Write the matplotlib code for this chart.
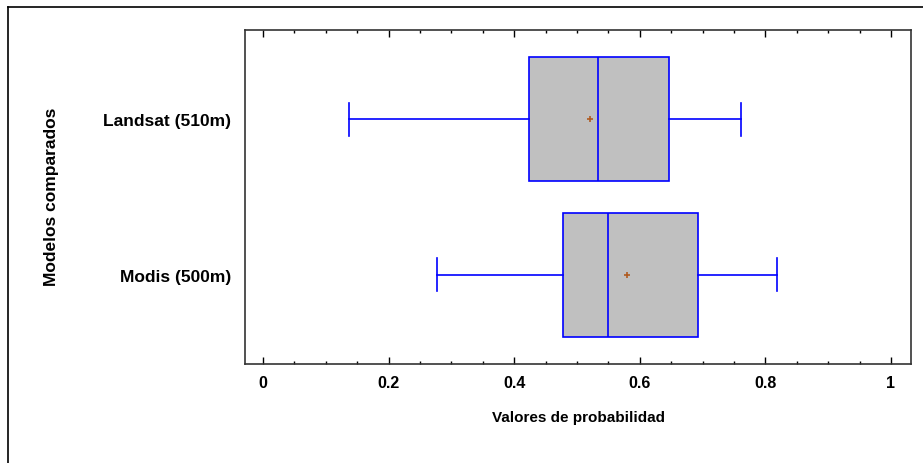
import matplotlib
matplotlib.use('Agg')
import matplotlib.pyplot as plt
from matplotlib.ticker import MultipleLocator
from matplotlib.lines import Line2D

plt.rcParams['font.family'] = ['Liberation Sans', 'DejaVu Sans']

# datos (Modis abajo, Landsat arriba)
modelos = ['Modis (500m)', 'Landsat (510m)']
minimos = [0.277, 0.137]
q1 = [0.478, 0.423]
medianas = [0.550, 0.533]
q3 = [0.692, 0.646]
maximos = [0.818, 0.761]
medias = [0.579, 0.520]

stats = []
for i in range(len(modelos)):
    stats.append({'label': modelos[i], 'whislo': minimos[i], 'q1': q1[i], 'med': medianas[i],
                  'q3': q3[i], 'whishi': maximos[i], 'mean': medias[i], 'fliers': []})

fig = plt.figure(figsize=(9.23, 4.64), dpi=100)
ax = fig.add_axes([245 / 923, 1 - 365 / 464, (911 - 245) / 923, (365 - 31) / 464])

azul = '#0000FF'
ax.bxp(stats, positions=[1, 2], vert=False, widths=0.8, patch_artist=True, showmeans=True,
       boxprops=dict(facecolor='#C0C0C0', edgecolor=azul, linewidth=1.2),
       medianprops=dict(color=azul, linewidth=1.2),
       whiskerprops=dict(color=azul, linewidth=1.2),
       capprops=dict(color=azul, linewidth=1.2),
       capwidths=0.21,
       meanprops=dict(marker='+', markeredgecolor='#B05A20', markersize=4, markeredgewidth=1.2))

ax.set_xlim(-0.0287, 1.032)
ax.set_ylim(0.423, 2.577)
ax.xaxis.set_major_locator(MultipleLocator(0.2))
ax.xaxis.set_minor_locator(MultipleLocator(0.05))
ax.xaxis.set_major_formatter(plt.FuncFormatter(lambda v, p: '%g' % round(v, 2)))
ax.tick_params(axis='x', which='major', direction='in', length=5, top=True, width=1,
               labelsize=11.5, pad=8)
ax.tick_params(axis='x', which='minor', direction='in', length=2.5, top=True, width=1)
ax.tick_params(axis='y', length=0, labelsize=12.5, pad=10)
for lab in ax.get_xticklabels() + ax.get_yticklabels():
    lab.set_fontweight('bold')
for s in ax.spines.values():
    s.set_color('#333333')
    s.set_linewidth(1.2)

ax.set_xlabel('Valores de probabilidad', fontsize=11, fontweight='bold', labelpad=14)
fig.text(52 / 923, 1 - 197 / 464, 'Modelos comparados', rotation=90, fontsize=12.5,
         fontweight='bold', ha='center', va='center')

# marco exterior (solo arriba e izquierda visibles)
fig.add_artist(Line2D([8 / 923, 8 / 923], [0, 1 - 8 / 464], transform=fig.transFigure, color='black', lw=1.2))
fig.add_artist(Line2D([8 / 923, 1], [1 - 8 / 464, 1 - 8 / 464], transform=fig.transFigure, color='black', lw=1.2))

fig.savefig('out.png', dpi=100)
